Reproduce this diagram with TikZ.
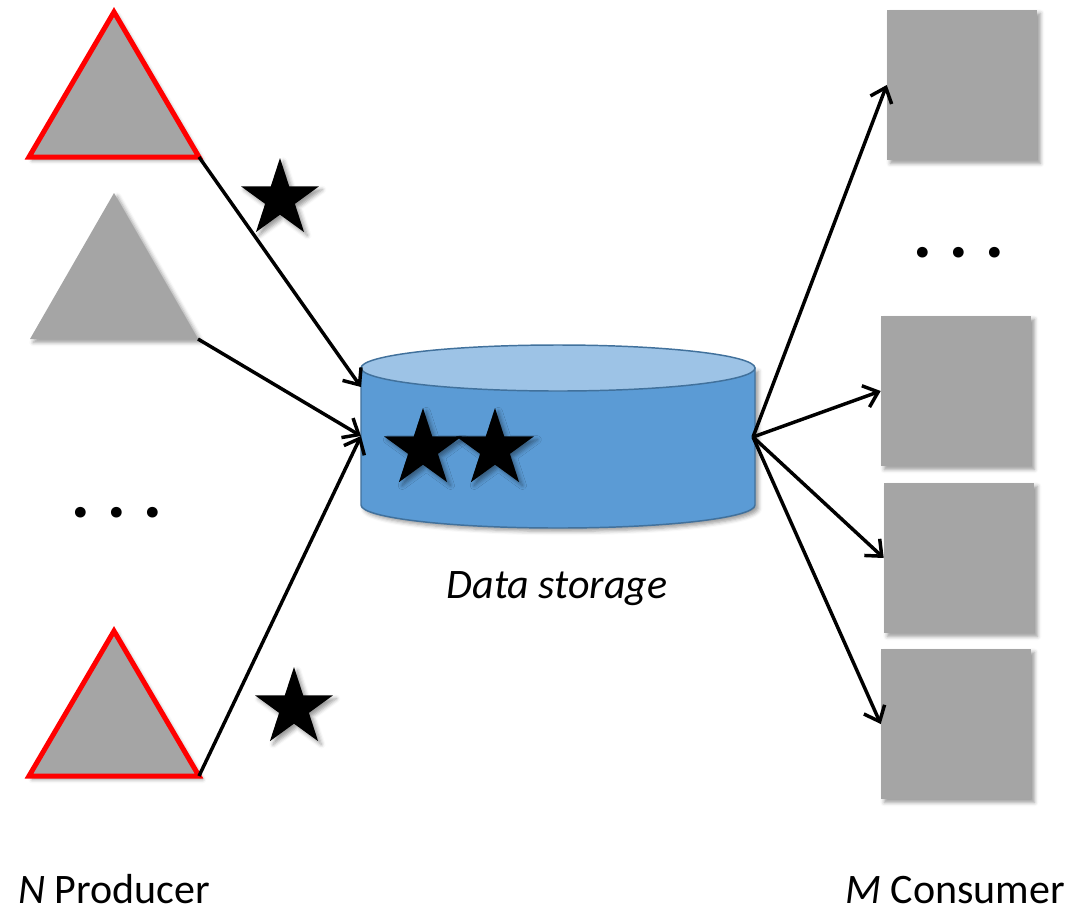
\documentclass[tikz,border=0pt]{standalone}
\usepackage{fontspec}
\setmainfont{Carlito}
\usetikzlibrary{arrows.meta,shapes.geometric,shadows.blur}
\definecolor{boxgray}{HTML}{A5A5A5}
\definecolor{cylside}{HTML}{5B9BD5}
\definecolor{cyltop}{HTML}{9DC3E6}
\definecolor{cyledge}{HTML}{41719C}
\tikzset{
  softshadow/.style={blur shadow={shadow xshift=2.5pt,shadow yshift=-2.5pt,shadow blur radius=3pt,shadow opacity=40}},
  prodtri/.style={fill=boxgray,draw=red,line width=3.75pt,line join=miter,softshadow},
  plaintri/.style={fill=boxgray,softshadow},
  consbox/.style={rectangle,fill=boxgray,minimum width=112.5pt,minimum height=112.5pt,inner sep=0pt,softshadow},
  token/.style={star,star points=5,star point ratio=2.618,fill=black,minimum size=61.5pt,inner sep=0pt,softshadow},
  flow/.style={line width=2.6pt,-{Straight Barb[length=10pt,width=17pt,line width=2.6pt]}},
  label/.style={font=\fontsize{31.5}{36}\selectfont,anchor=base,inner sep=0pt},
  dots/.style={font=\fontsize{54}{58}\selectfont\bfseries\itshape,inner sep=0pt}
}
\begin{document}
\begin{tikzpicture}[x=0.75pt,y=-0.75pt]
\useasboundingbox (0,0) rectangle (1073,911);

% producers
\coordinate (t1l) at (29,157); \coordinate (t1r) at (199,157); \coordinate (t1a) at (114,12);
\coordinate (t2l) at (30,339); \coordinate (t2r) at (198,339); \coordinate (t2a) at (114,193);
\coordinate (t3l) at (29,776); \coordinate (t3r) at (199,776); \coordinate (t3a) at (114,631);
\path[prodtri] (t1l) -- (t1a) -- (t1r) -- cycle;
\path[plaintri] (t2l) -- (t2a) -- (t2r) -- cycle;
\path[prodtri] (t3l) -- (t3a) -- (t3r) -- cycle;

% storage cylinder
\path[fill=cylside,draw=cyledge,line width=1.1pt,softshadow]
  (361,368) -- (361,505) arc[start angle=180,end angle=0,x radius=197,y radius=23] -- (755,368) -- cycle;
\path[fill=cyltop,draw=cyledge,line width=1.1pt] (558,368) ellipse [x radius=197,y radius=23];
\coordinate (in1) at (361,387);
\coordinate (in2) at (361,436);
\coordinate (out) at (753,437);

% consumers
\node[consbox] (c1) at (962,85) {};
\node[consbox] (c2) at (956,391) {};
\node[consbox] (c3) at (959,558) {};
\node[consbox] (c4) at (956,724) {};

% stars
\node[token] (s1) at (280,199) {};
\node[token] (s2) at (294,708) {};
\node[token] (sa) at (423,449) {};
\node[token] (sb) at (495,449) {};

% connectors
\draw[flow] (t1r) -- (in1);
\draw[flow] (t2r) -- (in2);
\draw[flow] (t3r) -- (in2);
\draw[flow] (out) -- (c1.west);
\draw[flow] (out) -- (c2.west);
\draw[flow] (out) -- (c3.west);
\draw[flow] (out) -- (c4.west);

% dots
\node[dots,anchor=base] (dl) at (118,517) {.\hspace{12.5pt}.\hspace{12.5pt}.};
\node[dots,anchor=base] (dr) at (960,257) {.\hspace{12.5pt}.\hspace{12.5pt}.};

% labels
\node[label] (ds) at (557,598) {\textit{Data storage}};
\node[label] (np) at (114,903) {\textit{N} Producer};
\node[label] (mc) at (955,903) {\textit{M} Consumer};
\end{tikzpicture}
\end{document}
